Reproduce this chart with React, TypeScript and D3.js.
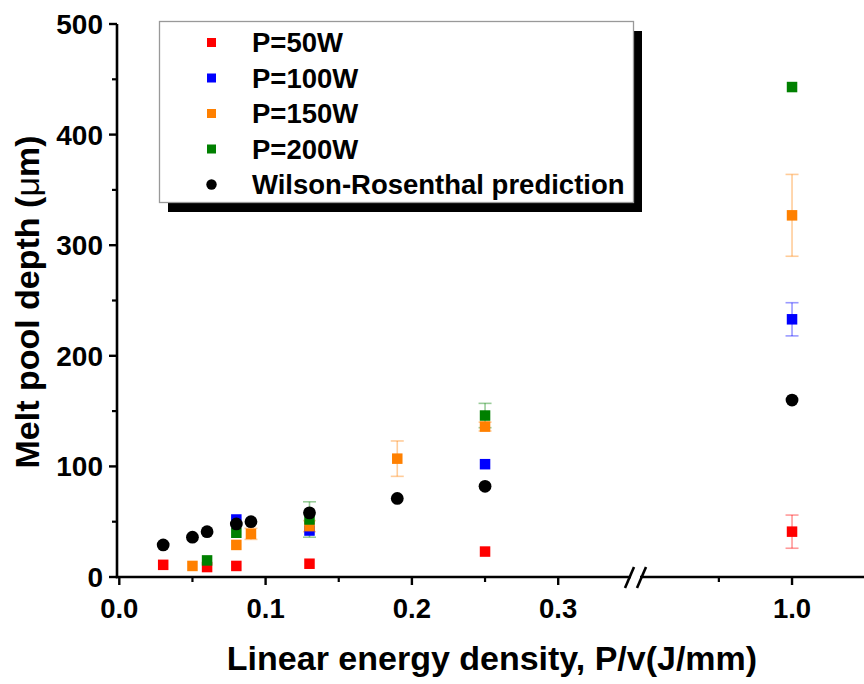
import React from 'react';
import * as d3 from 'd3';

// ---- Data ----
const xP50 = [0.03, 0.06, 0.08, 0.13, 0.25, 1.0];
const yP50 = [11, 9, 10, 12, 23, 41];
const eP50 = [0, 0, 0, 0, 0, 15];

const xP100 = [0.08, 0.13, 0.25, 1.0];
const yP100 = [52, 42, 102, 233];
const eP100 = [0, 0, 0, 15];

const xP150 = [0.05, 0.08, 0.09, 0.13, 0.19, 0.25, 1.0];
const yP150 = [10, 29, 39, 46, 107, 136, 327];
const eP150 = [0, 0, 5, 5, 16, 4, 37];

const xP200 = [0.06, 0.08, 0.13, 0.25, 1.0];
const yP200 = [15, 40, 52, 146, 443];
const eP200 = [0, 0, 16, 11, 0];

const xWR = [0.03, 0.05, 0.06, 0.08, 0.09, 0.13, 0.19, 0.25, 1.0];
const yWR = [29, 36, 41, 48, 50, 58, 71, 82, 160];

const seriesNames = ['P=50W', 'P=100W', 'P=150W', 'P=200W', 'Wilson-Rosenthal prediction'];
const seriesColors = ['#ff0000', '#0000ff', '#ff8000', '#008000', '#000000'];

const yTicks = [0, 100, 200, 300, 400, 500];
const yMinorTicks = [50, 150, 250, 350, 450];
const xTicksSeg1 = [0, 0.1, 0.2, 0.3];
const xMinorSeg1 = [0.05, 0.15, 0.25];
const xTicksSeg2 = [1.0];
const xMinorSeg2 = [0.95];

const xTitle = 'Linear energy density, P/v(J/mm)';

const FONT = '"Liberation Sans", Arial, Helvetica, sans-serif';

export default function App() {
  const W = 864;
  const H = 684;
  const y = d3.scaleLinear().domain([0, 500]).range([577, 24]);
  const x1 = d3.scaleLinear().domain([0, 0.354]).range([119.3, 637.2]);
  const x2 = d3.scaleLinear().domain([0.9, 1.05]).range([645.7, 865.2]);
  const xs = (v: number) => (v < 0.6 ? x1(v) : x2(v));

  const fmt = d3.format('.1f');

  const squareSeries = [
    { xv: xP50, yv: yP50, ev: eP50, c: seriesColors[0] },
    { xv: xP100, yv: yP100, ev: eP100, c: seriesColors[1] },
    { xv: xP150, yv: yP150, ev: eP150, c: seriesColors[2] },
    { xv: xP200, yv: yP200, ev: eP200, c: seriesColors[3] },
  ];

  const axisY = 577;
  const axisX = 117;
  const sq = 10.5;

  return (
    <svg width={W} height={H} style={{ position: 'absolute', left: 0, top: 0, background: '#fff' }}
      fontFamily={FONT}>
      <rect x={0} y={0} width={W} height={H} fill="#fff" />

      {/* Error bars */}
      {squareSeries.map((s, si) =>
        s.xv.map((xv, i) => {
          const e = s.ev[i];
          if (!e) return null;
          const cx = xs(xv);
          const y0 = y(s.yv[i] - e);
          const y1 = y(s.yv[i] + e);
          return (
            <g key={`e${si}-${i}`} stroke={s.c} strokeOpacity={0.4} strokeWidth={1.6}>
              <line x1={cx} x2={cx} y1={y0} y2={y1} />
              <line x1={cx - 6.5} x2={cx + 6.5} y1={y0} y2={y0} />
              <line x1={cx - 6.5} x2={cx + 6.5} y1={y1} y2={y1} />
            </g>
          );
        })
      )}

      {/* Square markers */}
      {squareSeries.map((s, si) =>
        s.xv.map((xv, i) => (
          <rect key={`m${si}-${i}`} x={xs(xv) - sq / 2} y={y(s.yv[i]) - sq / 2} width={sq} height={sq} fill={s.c} />
        ))
      )}

      {/* Prediction circles */}
      {xWR.map((xv, i) => (
        <circle key={`wr${i}`} cx={xs(xv)} cy={y(yWR[i])} r={6.4} fill="#000" />
      ))}

      {/* Y axis */}
      <line x1={axisX} x2={axisX} y1={axisY + 1.2} y2={y(500)} stroke="#000" strokeWidth={2.6} />
      {yTicks.map((t) => (
        <g key={`yt${t}`}>
          <line x1={axisX - 8} x2={axisX} y1={y(t)} y2={y(t)} stroke="#000" strokeWidth={2.4} />
          <text x={103} y={y(t)} dy="0.36em" textAnchor="end" fontSize={28} fontWeight="bold">{t}</text>
        </g>
      ))}
      {yMinorTicks.map((t) => (
        <line key={`ym${t}`} x1={axisX - 5} x2={axisX} y1={y(t)} y2={y(t)} stroke="#000" strokeWidth={2.2} />
      ))}

      {/* X axis */}
      <line x1={axisX - 1.2} x2={W} y1={axisY} y2={axisY} stroke="#000" strokeWidth={2.6} />
      {xTicksSeg1.map((t) => (
        <g key={`xt${t}`}>
          <line x1={x1(t)} x2={x1(t)} y1={axisY} y2={axisY + 8} stroke="#000" strokeWidth={2.4} />
          <text x={x1(t)} y={618} textAnchor="middle" fontSize={27.5} fontWeight="bold">{fmt(t)}</text>
        </g>
      ))}
      {xMinorSeg1.map((t) => (
        <line key={`xm${t}`} x1={x1(t)} x2={x1(t)} y1={axisY} y2={axisY + 5} stroke="#000" strokeWidth={2.2} />
      ))}
      {xTicksSeg2.map((t) => (
        <g key={`xt2${t}`}>
          <line x1={x2(t)} x2={x2(t)} y1={axisY} y2={axisY + 8} stroke="#000" strokeWidth={2.4} />
          <text x={x2(t)} y={618} textAnchor="middle" fontSize={27.5} fontWeight="bold">{fmt(t)}</text>
        </g>
      ))}
      {xMinorSeg2.map((t) => (
        <line key={`xm2${t}`} x1={x2(t)} x2={x2(t)} y1={axisY} y2={axisY + 5} stroke="#000" strokeWidth={2.2} />
      ))}

      {/* Axis break */}
      <rect x={631} y={axisY - 3} width={9} height={6} fill="#fff" />
      <line x1={625} y1={588} x2={634} y2={567} stroke="#000" strokeWidth={2.6} />
      <line x1={637} y1={588} x2={646} y2={567} stroke="#000" strokeWidth={2.6} />

      {/* Axis titles */}
      <text x={492} y={670} textAnchor="middle" fontSize={34} fontWeight="bold">{xTitle}</text>
      <text transform={`translate(39,302) rotate(-90)`} textAnchor="middle" fontSize={34} fontWeight="bold">
        Melt pool depth (<tspan fontWeight="normal">μ</tspan>m)
      </text>

      {/* Legend */}
      <rect x={168} y={31} width={474} height={181} fill="#000" />
      <rect x={159.5} y={21.5} width={474} height={181} fill="#fff" stroke="#999" strokeWidth={1.3} />
      {seriesNames.map((name, i) => {
        const cy = 42.5 + i * 35.5;
        return (
          <g key={`lg${i}`}>
            {i < 4 ? (
              <rect x={211.5 - 4.5} y={cy - 4.5} width={9} height={9} fill={seriesColors[i]} />
            ) : (
              <circle cx={211.5} cy={cy} r={5.2} fill="#000" />
            )}
            <text x={252} y={cy} dy="0.36em" fontSize={27.5} fontWeight="bold">{name}</text>
          </g>
        );
      })}
    </svg>
  );
}
